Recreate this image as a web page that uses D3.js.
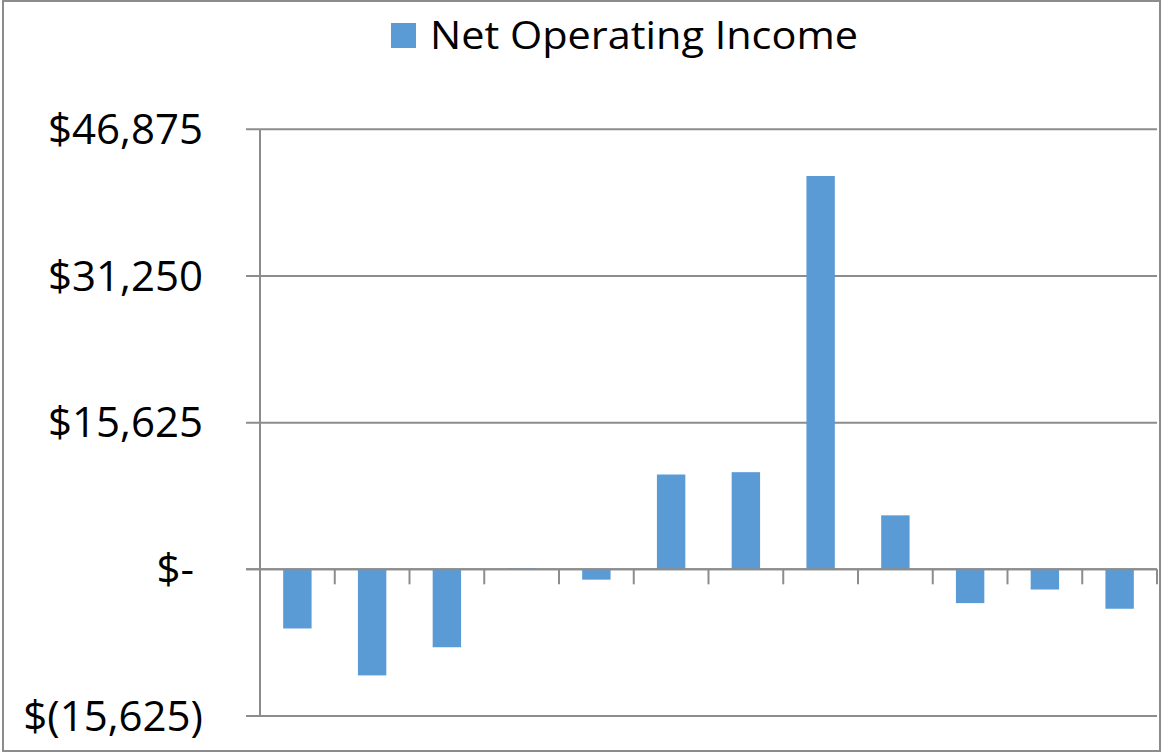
<!DOCTYPE html>
<html>
<head>
<meta charset="utf-8">
<script src="https://cdn.jsdelivr.net/npm/d3@7"></script>
<style>
  html, body { margin: 0; padding: 0; background: #fff; }
  svg { display: block; }
  text { font-family: "Open Sans", "Liberation Sans", sans-serif; fill: #000; }
</style>
</head>
<body>
<svg id="chart" width="1162" height="753"></svg>
<script>
const categories = ["1", "2", "3", "4", "5", "6", "7", "8", "9", "10", "11", "12"];
const seriesName = "Net Operating Income";
const values = [-6300, -11300, -8300, 120, -1100, 10100, 10350, 41900, 5750, -3600, -2150, -4200];
const yTicks = [-15625, 0, 15625, 31250, 46875];

const W = 1162, H = 753;
const svg = d3.select("#chart");
const gray = "#8c8c8c";
const barColor = "#5b9bd5";

// outer border
svg.append("rect").attr("x", 3).attr("y", 1).attr("width", W - 5).attr("height", H - 3)
  .attr("fill", "#fff").attr("stroke", gray).attr("stroke-width", 2);

const plotLeft = 260, plotRight = 1157, plotTop = 129.3, plotBottom = 716;

const x = d3.scaleBand().domain(categories).range([plotLeft, plotRight])
  .paddingInner(0.62).paddingOuter(0.31);
const y = d3.scaleLinear().domain([-15625, 46875]).range([plotBottom, plotTop]);

// gridlines
svg.append("g").selectAll("line").data(yTicks).join("line")
  .attr("x1", plotLeft - 14).attr("x2", plotRight)
  .attr("y1", d => y(d)).attr("y2", d => y(d))
  .attr("stroke", gray).attr("stroke-width", 2);

// y axis labels
const fmt = d => {
  if (d === 0) return "$-";
  const s = d3.format(",")(Math.abs(d));
  return d < 0 ? "$(" + s + ")" : "$" + s;
};
const yAxis = d3.axisLeft(y).tickValues(yTicks).tickFormat(fmt).tickSize(0).tickPadding(0);
const gy = svg.append("g").attr("transform", `translate(${plotLeft},0)`).call(yAxis);
gy.select(".domain").remove();
gy.selectAll("text")
  .attr("x", d => d === 0 ? -66 : -57)
  .attr("dy", "0.34em")
  .style("font-size", "42px")
  .style("font-family", "'Open Sans', sans-serif")
  .attr("fill", "#000");

// bars
svg.append("g").selectAll("rect").data(values).join("rect")
  .attr("x", (d, i) => x(categories[i]))
  .attr("width", x.bandwidth())
  .attr("y", d => y(Math.max(0, d)))
  .attr("height", d => Math.abs(y(d) - y(0)))
  .attr("fill", barColor);

// y axis line
svg.append("line").attr("x1", plotLeft).attr("x2", plotLeft)
  .attr("y1", plotTop).attr("y2", plotBottom)
  .attr("stroke", gray).attr("stroke-width", 2);

// zero axis line + category tick marks
svg.append("line").attr("x1", plotLeft - 14).attr("x2", plotRight)
  .attr("y1", y(0)).attr("y2", y(0)).attr("stroke", gray).attr("stroke-width", 2);
svg.append("g").selectAll("line").data(categories).join("line")
  .attr("x1", d => x(d) + x.bandwidth() / 2 + x.step() / 2)
  .attr("x2", d => x(d) + x.bandwidth() / 2 + x.step() / 2)
  .attr("y1", y(0)).attr("y2", y(0) + 15)
  .attr("stroke", gray).attr("stroke-width", 2);

// legend
const lg = svg.append("g");
lg.append("rect").attr("x", 391).attr("y", 23).attr("width", 25).attr("height", 25).attr("fill", barColor);
lg.append("text").attr("x", 430).attr("y", 49).style("font-size", "38px")
  .attr("textLength", 428).attr("lengthAdjust", "spacingAndGlyphs").text(seriesName);
</script>
</body>
</html>
